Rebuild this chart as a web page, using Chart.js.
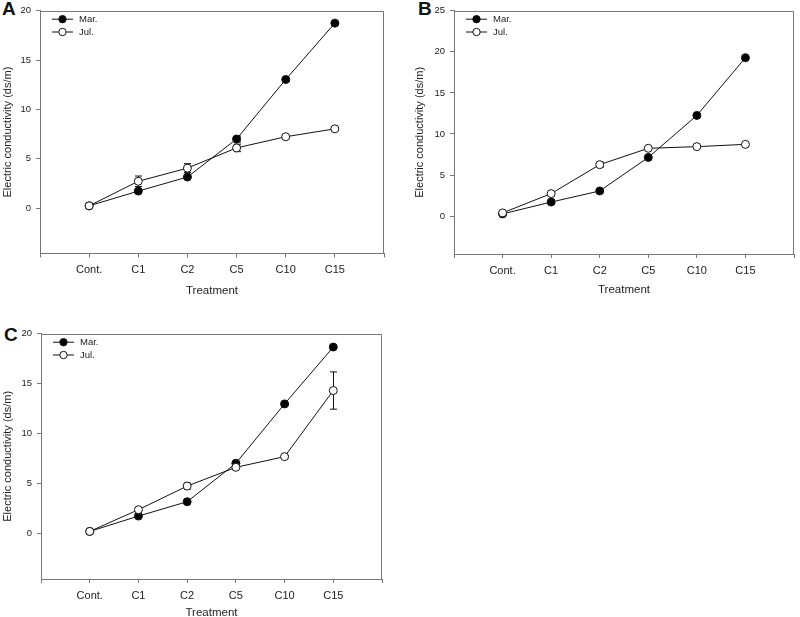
<!DOCTYPE html>
<html>
<head>
<meta charset="utf-8">
<script src="https://cdn.jsdelivr.net/npm/chart.js@4.4.1/dist/chart.umd.min.js"></script>
<style>
  html, body { margin: 0; padding: 0; background: #fff; overflow: hidden; }
  body { width: 800px; height: 617px; position: relative; font-family: "Liberation Sans", Arial, sans-serif; }
  .panel { position: absolute; }
  .letter { position: absolute; font-weight: bold; font-size: 19px; line-height: 18px; color: #111; }
</style>
</head>
<body>
<div class="letter" style="left:2px; top:0px;">A</div>
<div class="letter" style="left:418px; top:0px;">B</div>
<div class="letter" style="left:4px; top:326px;">C</div>

<div class="panel" style="left:0px; top:0px;"><canvas id="chartA" width="392" height="300"></canvas></div>
<div class="panel" style="left:400px; top:0px;"><canvas id="chartB" width="400" height="300"></canvas></div>
<div class="panel" style="left:0px; top:320px;"><canvas id="chartC" width="392" height="305"></canvas></div>

<script>
const categories = ["Cont.", "C1", "C2", "C5", "C10", "C15"];
const seriesNames = ["Mar.", "Jul."];
const yTicksA = [0, 5, 10, 15, 20];
const yTicksB = [0, 5, 10, 15, 20, 25];
const yTicksC = [0, 5, 10, 15, 20];

// panel A
const marA = [0.23, 1.72, 3.15, 7.0, 13.03, 18.74];
const julA = [0.23, 2.72, 4.05, 6.1, 7.23, 8.03];
const marErrA = [0.05, 0.2, 0.25, 0.3, 0.2, 0.1];
const julErrA = [0.05, 0.53, 0.45, 0.38, 0.1, 0.1];

// panel B
const marB = [0.28, 1.72, 3.07, 7.15, 12.26, 19.28];
const julB = [0.4, 2.75, 6.27, 8.26, 8.46, 8.74];
const marErrB = [0.1, 0.1, 0.1, 0.15, 0.2, 0.2];
const julErrB = [0.1, 0.1, 0.3, 0.1, 0.1, 0.1];

// panel C
const marC = [0.17, 1.71, 3.15, 7.0, 12.96, 18.66];
const julC = [0.17, 2.35, 4.72, 6.6, 7.67, 14.3];
const marErrC = [0.05, 0.15, 0.1, 0.15, 0.1, 0.1];
const julErrC = [0.05, 0.1, 0.3, 0.1, 0.1, 1.87];

const FONT = "'Liberation Sans', Arial, sans-serif";
const AXIS_COLOR = "#777";
const TEXT_COLOR = "#222";
const LINE_COLOR = "#111";

// top and right sides of the box
const framePlugin = {
    id: "frame",
    afterDraw(chart) {
        const a = chart.chartArea;
        const ctx = chart.ctx;
        const t = Math.round(a.top) + 0.5;
        const r = Math.round(a.right) - 0.5;
        ctx.save();
        ctx.strokeStyle = AXIS_COLOR;
        ctx.lineWidth = 1;
        ctx.beginPath();
        ctx.moveTo(a.left, t);
        ctx.lineTo(r, t);
        ctx.lineTo(r, a.bottom);
        ctx.stroke();
        ctx.restore();
    }
};

// vertical error bars, drawn under the markers
const errorBarPlugin = {
    id: "errorBars",
    beforeDatasetsDraw(chart) {
        const ctx = chart.ctx;
        const xs = chart.scales.x;
        const ys = chart.scales.y;
        ctx.save();
        ctx.strokeStyle = LINE_COLOR;
        ctx.lineWidth = 1;
        chart.data.datasets.forEach(ds => {
            ds.data.forEach((p, i) => {
                const e = ds.errors[i];
                const x = Math.round(xs.getPixelForValue(p.x)) + 0.5;
                const y1 = ys.getPixelForValue(p.y + e);
                const y2 = ys.getPixelForValue(p.y - e);
                ctx.beginPath();
                ctx.moveTo(x, y1);
                ctx.lineTo(x, y2);
                ctx.moveTo(x - 3.5, y1);
                ctx.lineTo(x + 3.5, y1);
                ctx.moveTo(x - 3.5, y2);
                ctx.lineTo(x + 3.5, y2);
                ctx.stroke();
            });
        });
        ctx.restore();
    }
};

// legend inside the top left corner of the plot
const insideLegendPlugin = {
    id: "insideLegend",
    afterDraw(chart) {
        const a = chart.chartArea;
        const ctx = chart.ctx;
        ctx.save();
        ctx.font = "9.5px " + FONT;
        ctx.textBaseline = "middle";
        chart.data.datasets.forEach((ds, i) => {
            const y = a.top + 8.5 + i * 12.8;
            ctx.strokeStyle = LINE_COLOR;
            ctx.lineWidth = 1;
            ctx.beginPath();
            ctx.moveTo(a.left + 12, y);
            ctx.lineTo(a.left + 33, y);
            ctx.stroke();
            ctx.beginPath();
            ctx.arc(a.left + 22.5, y, 3.7, 0, Math.PI * 2);
            ctx.fillStyle = ds.pointBackgroundColor;
            ctx.fill();
            ctx.stroke();
            ctx.fillStyle = TEXT_COLOR;
            ctx.fillText(ds.label, a.left + 39, y);
        });
        ctx.restore();
    }
};

function toPoints(values) {
    return values.map((v, i) => ({ x: i, y: v }));
}

function makePanel(id, mar, jul, marErr, julErr, yTicks, geo) {
    const yMax = yTicks[yTicks.length - 1];
    new Chart(document.getElementById(id), {
        type: "line",
        data: {
            datasets: [
                {
                    label: seriesNames[0],
                    data: toPoints(mar),
                    errors: marErr,
                    borderColor: LINE_COLOR,
                    borderWidth: 1,
                    pointRadius: 4,
                    pointBackgroundColor: "#000",
                    pointBorderColor: LINE_COLOR,
                    pointBorderWidth: 1,
                    tension: 0,
                    order: 1
                },
                {
                    label: seriesNames[1],
                    data: toPoints(jul),
                    errors: julErr,
                    borderColor: LINE_COLOR,
                    borderWidth: 1,
                    pointRadius: 4,
                    pointBackgroundColor: "#fff",
                    pointBorderColor: LINE_COLOR,
                    pointBorderWidth: 1,
                    tension: 0,
                    order: 0
                }
            ]
        },
        options: {
            responsive: false,
            animation: false,
            layout: { padding: geo.padding },
            plugins: {
                legend: { display: false },
                tooltip: { enabled: false }
            },
            scales: {
                x: {
                    type: "linear",
                    min: -1,
                    max: 6,
                    afterBuildTicks: s => { s.ticks = [-1, 0, 1, 2, 3, 4, 5, 6].map(v => ({ value: v })); },
                    afterFit: s => { s.height = geo.xHeight; },
                    grid: { drawOnChartArea: false, drawTicks: true, tickLength: 4, color: AXIS_COLOR },
                    border: { display: true, color: AXIS_COLOR, width: 1 },
                    ticks: {
                        autoSkip: false,
                        maxRotation: 0,
                        padding: 6,
                        color: TEXT_COLOR,
                        font: { family: FONT, size: 11 },
                        callback: v => (categories[v] !== undefined ? categories[v] : "")
                    },
                    title: {
                        display: true,
                        text: "Treatment",
                        color: TEXT_COLOR,
                        font: { family: FONT, size: 11.5 },
                        padding: { top: 0, bottom: geo.xTitlePad }
                    }
                },
                y: {
                    min: -4.6,
                    max: yMax,
                    afterBuildTicks: s => { s.ticks = yTicks.map(v => ({ value: v })); },
                    afterFit: s => { s.width = geo.yWidth; },
                    grid: { drawOnChartArea: false, drawTicks: true, tickLength: 4, color: AXIS_COLOR },
                    border: { display: true, color: AXIS_COLOR, width: 1 },
                    ticks: {
                        padding: 5,
                        color: TEXT_COLOR,
                        font: { family: FONT, size: 9.5 }
                    },
                    title: {
                        display: true,
                        text: "Electric conductivity (ds/m)",
                        color: TEXT_COLOR,
                        font: { family: FONT, size: 11 },
                        padding: { top: geo.yTitlePad, bottom: 0 }
                    }
                }
            }
        },
        plugins: [framePlugin, errorBarPlugin, insideLegendPlugin]
    });
}

makePanel("chartA", marA, julA, marErrA, julErrA, yTicksA,
    { padding: { left: 0, top: 7, right: 8, bottom: 0 }, yWidth: 40, xHeight: 46.5, xTitlePad: 2, yTitlePad: 1 });
makePanel("chartB", marB, julB, marErrB, julErrB, yTicksB,
    { padding: { left: 12, top: 7, right: 1, bottom: 0 }, yWidth: 42, xHeight: 46, xTitlePad: 3, yTitlePad: 1 });
makePanel("chartC", marC, julC, marErrC, julErrC, yTicksC,
    { padding: { left: 0, top: 13.7, right: 10, bottom: 0 }, yWidth: 41, xHeight: 46, xTitlePad: 5, yTitlePad: 1 });
</script>
</body>
</html>
